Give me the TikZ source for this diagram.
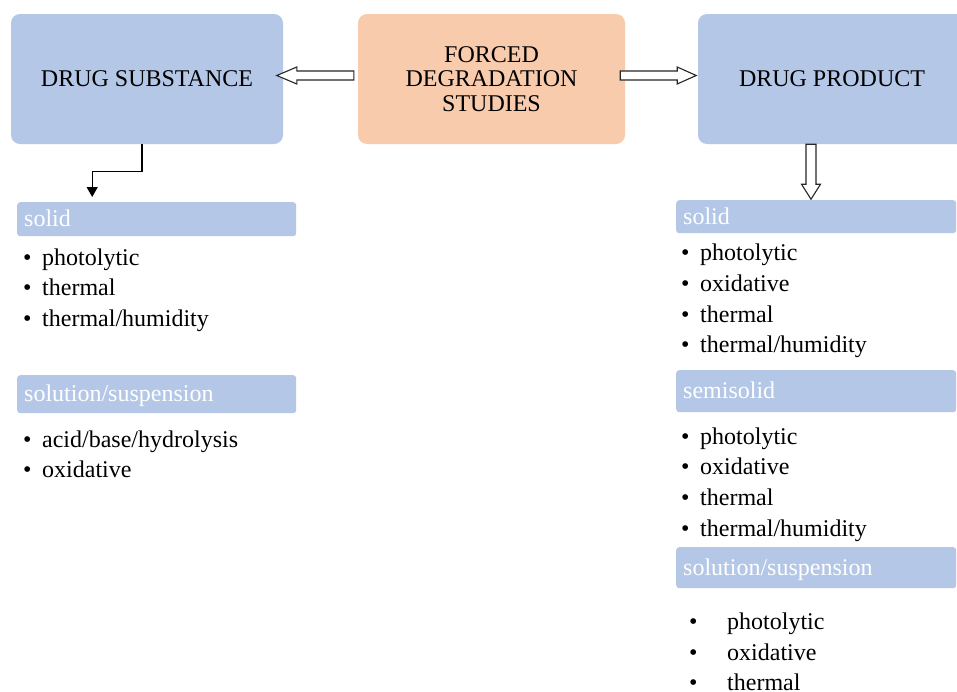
\documentclass[tikz,border=0pt]{standalone}
\usepackage{fontspec}
\setmainfont{Liberation Serif}
\usetikzlibrary{calc,arrows.meta}
\definecolor{boxblue}{RGB}{180,199,231}
\definecolor{boxorange}{RGB}{248,203,173}
\newcommand{\bulitem}{\makebox[19pt][l]{•}}
\newcommand{\bulwide}{\makebox[38pt][l]{•}}
\begin{document}
\begin{tikzpicture}[x=1pt,y=-1pt,
  bigbox/.style={rectangle, rounded corners=9pt, inner sep=0pt, align=center, font=\fontsize{24}{24.5}\selectfont},
  hdr/.style={rectangle, rounded corners=3pt, fill=boxblue, inner xsep=7pt, inner ysep=0pt, anchor=north west, text=white, align=left, font=\fontsize{24}{28}\selectfont, text height=15.5pt, text depth=0pt},
  item/.style={anchor=west, inner sep=0pt, font=\fontsize{24}{28}\selectfont, text height=17.5pt, text depth=0pt},
  hollow/.style={draw=black!85, line width=1.1pt, fill=white, line join=miter},
  conn/.style={draw=black, line width=1.3pt, -{Triangle[width=11pt,length=10pt]}}
]
\useasboundingbox (0,0) rectangle (957,691);
\fill[white] (0,0) rectangle (957,691);

% main boxes
\node[bigbox, fill=boxblue, minimum width=272pt, minimum height=130pt] (ds) at (147,79) {DRUG SUBSTANCE};
\node[bigbox, fill=boxorange, minimum width=267pt, minimum height=130pt] (fds) at (491.5,79) {FORCED\\DEGRADATION\\STUDIES};
\node[bigbox, fill=boxblue, minimum width=268pt, minimum height=130pt] (dp) at (832,79) {DRUG PRODUCT};

% headers
\node[hdr, minimum height=34pt, text width=265pt] (lsolid) at (17,202) {solid};
\node[hdr, minimum height=38pt, text width=265pt] (lsol) at (17,375) {solution/suspension};
\node[hdr, minimum height=33pt, text width=266pt] (rsolid) at (676,200) {solid};
\node[hdr, minimum height=42pt, text width=266pt] (rsemi) at (676,370) {semisolid};
\node[hdr, minimum height=41pt, text width=266pt] (rsol) at (676,547) {solution/suspension};

% left lists
\node[item] (la1) at (23,256.7) {\bulitem photolytic};
\node[item] (la2) at (23,286.7) {\bulitem thermal};
\node[item] (la3) at (23,318) {\bulitem thermal/humidity};
\node[item] (lb1) at (23,439) {\bulitem acid/base/hydrolysis};
\node[item] (lb2) at (23,469) {\bulitem oxidative};

% right lists
\node[item] (ra1) at (681,251.7) {\bulitem photolytic};
\node[item] (ra2) at (681,282.7) {\bulitem oxidative};
\node[item] (ra3) at (681,313.3) {\bulitem thermal};
\node[item] (ra4) at (681,344) {\bulitem thermal/humidity};
\node[item] (rb1) at (681,436) {\bulitem photolytic};
\node[item] (rb2) at (681,466) {\bulitem oxidative};
\node[item] (rb3) at (681,496.7) {\bulitem thermal};
\node[item] (rb4) at (681,527.3) {\bulitem thermal/humidity};
\node[item] (rc1) at (689,621) {\bulwide photolytic};
\node[item] (rc2) at (689,651.7) {\bulwide oxidative};
\node[item] (rc3) at (689,681.7) {\bulwide thermal};

% hollow arrows
\draw[hollow] ($(fds.west)+(-4,-8)$) -- ++(-57,0) -- ++(0,-4) -- ++(-20,8.5) -- ++(20,8.5) -- ++(0,-4) -- ++(57,0) -- cycle;
\draw[hollow] ($(fds.east)+(-5,-8)$) -- ++(57,0) -- ++(0,-4) -- ++(19,8.5) -- ++(-19,8.5) -- ++(0,-4) -- ++(-57,0) -- cycle;
\draw[hollow] ($(dp.south)+(-26,0)$) -- ++(0,40) -- ++(-4.5,0) -- ++(9.5,15) -- ++(9.5,-15) -- ++(-4.5,0) -- ++(0,-40) -- cycle;

% elbow connector
\draw[conn] ($(ds.south)+(-5,0)$) -- ++(0,27.5) -| ($(lsolid.north)+(-64.5,-5)$);
\end{tikzpicture}
\end{document}
